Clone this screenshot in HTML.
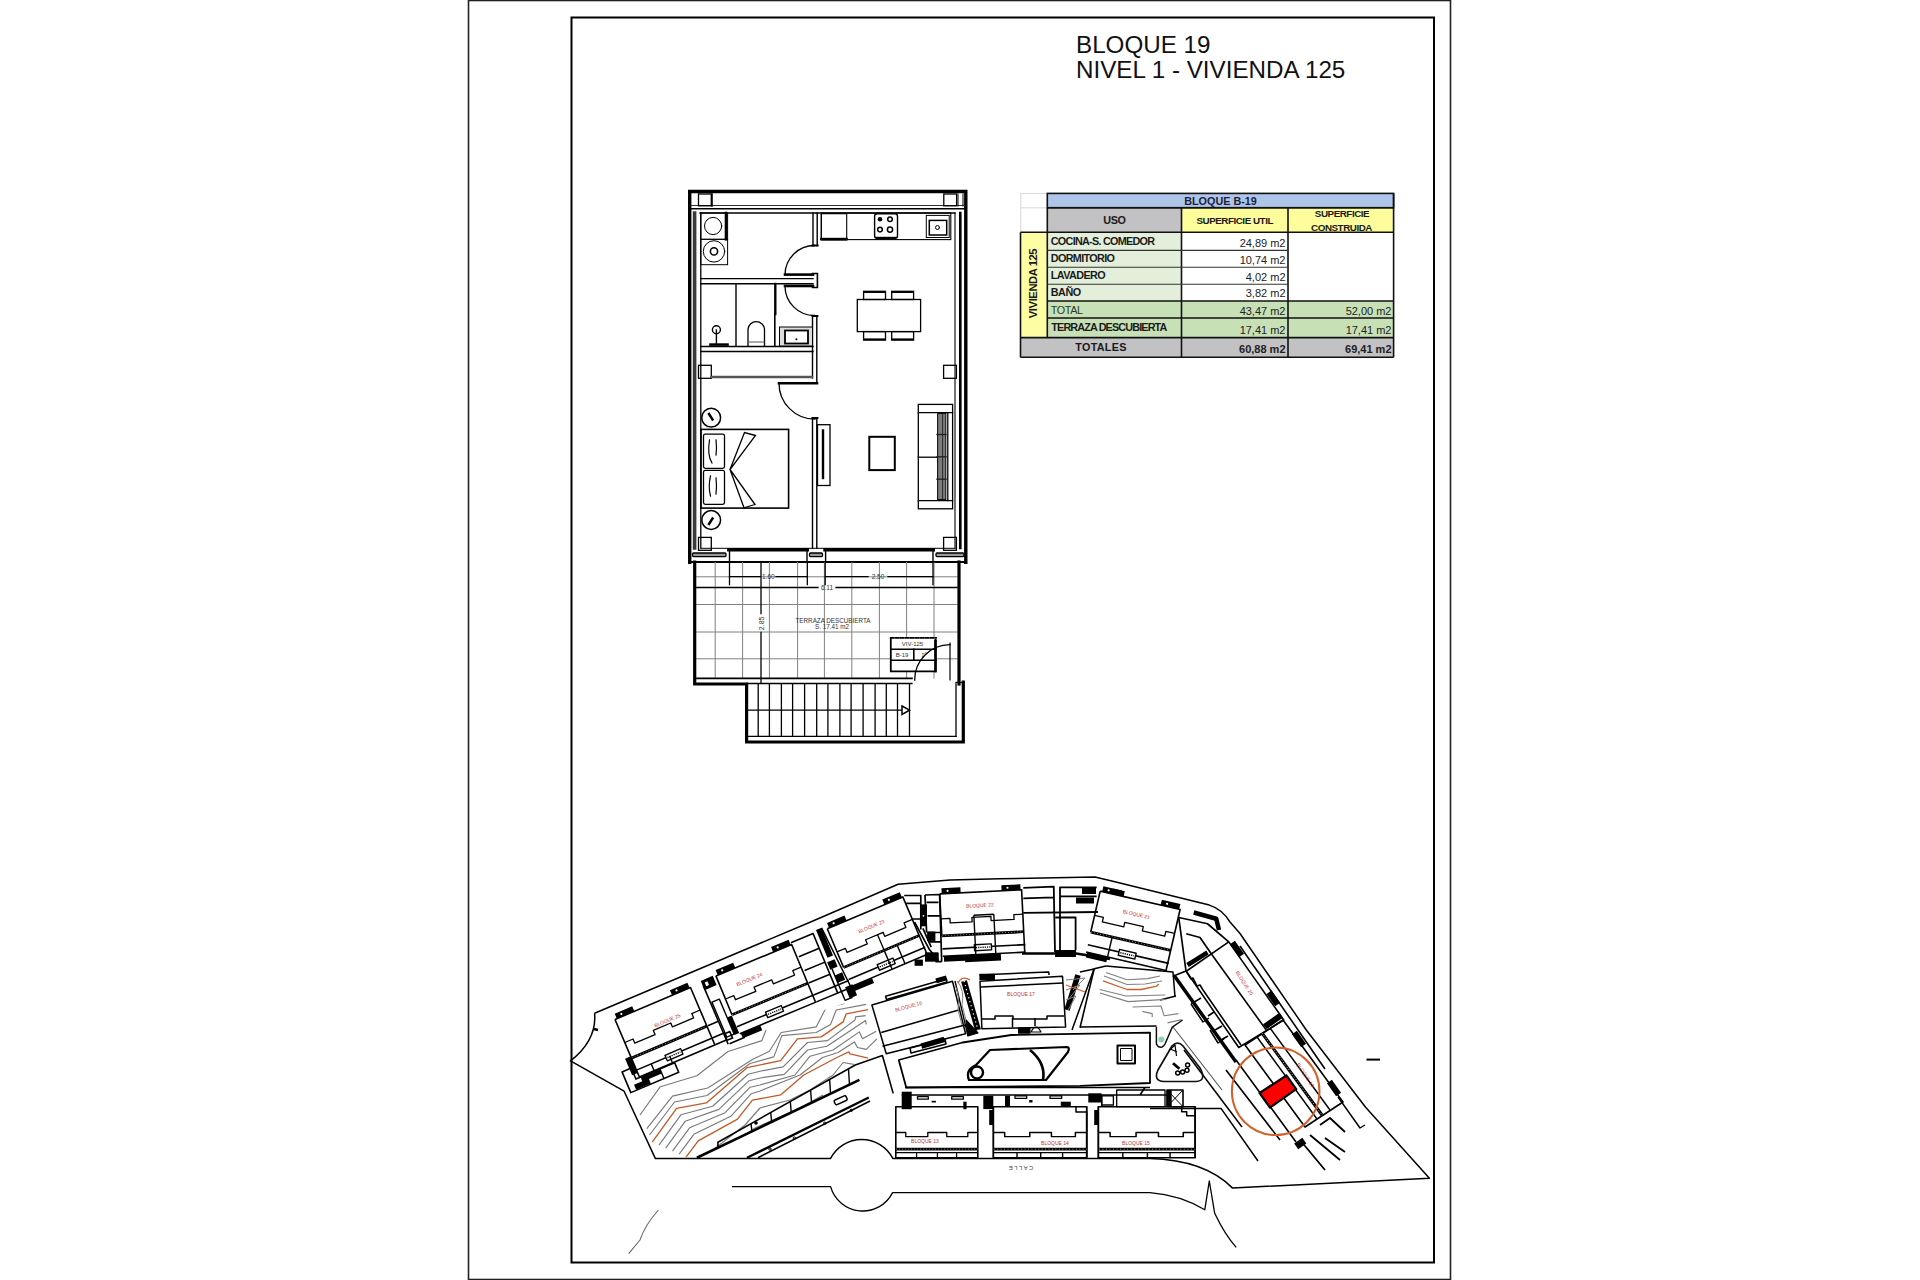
<!DOCTYPE html>
<html><head><meta charset="utf-8">
<style>
html,body{margin:0;padding:0;background:#fff;width:1920px;height:1280px;overflow:hidden}
svg{position:absolute;left:0;top:0;display:block}
text{font-family:"Liberation Sans",sans-serif}
</style></head><body>
<svg width="1920" height="1280" viewBox="0 0 1920 1280">
<!-- page borders -->
<rect x="468.5" y="0.5" width="982" height="1279" fill="none" stroke="#222" stroke-width="1.6"/>
<rect x="571.5" y="17.5" width="862.5" height="1245" fill="none" stroke="#000" stroke-width="2"/>
<!-- title -->
<text x="1076" y="53" font-size="24.2" fill="#111">BLOQUE 19</text>
<text x="1076" y="77.8" font-size="24.2" fill="#111">NIVEL 1 - VIVIENDA 125</text>
<g id="table">
<rect x="1047.3" y="193.4" width="346.3" height="14.3" fill="#aec4e8"/>
<rect x="1047.3" y="207.7" width="134.2" height="24.6" fill="#c2c1c3"/>
<rect x="1181.5" y="207.7" width="212.1" height="24.6" fill="#fdfd9c"/>
<rect x="1020.5" y="232.3" width="26.8" height="105.3" fill="#fdfda4"/>
<rect x="1047.3" y="232.3" width="134.2" height="68.7" fill="#e3efdb"/>
<rect x="1047.3" y="301" width="346.3" height="36.6" fill="#c7e0b5"/>
<rect x="1020.5" y="337.6" width="373.1" height="19.7" fill="#c2c1c3"/>
<g stroke="#d8d8d8" stroke-width="1" fill="none">
<line x1="1021" y1="207.8" x2="1047" y2="207.8"/>
<line x1="1021" y1="193.5" x2="1047" y2="193.5"/>
<line x1="1020.8" y1="193" x2="1020.8" y2="232"/>
</g>
<g stroke="#111" stroke-width="1.6" fill="none">
<rect x="1047.3" y="193.4" width="346.3" height="14.3"/>
<line x1="1047.3" y1="207.7" x2="1393.6" y2="207.7"/>
<line x1="1020.5" y1="232.3" x2="1393.6" y2="232.3"/>
<line x1="1020.5" y1="232.3" x2="1020.5" y2="357.3"/>
<line x1="1047.3" y1="207.7" x2="1047.3" y2="337.6"/>
<line x1="1181.5" y1="207.7" x2="1181.5" y2="357.3"/>
<line x1="1288" y1="207.7" x2="1288" y2="357.3"/>
<line x1="1393.6" y1="193.4" x2="1393.6" y2="357.3"/>
<line x1="1047.3" y1="301" x2="1393.6" y2="301"/>
<line x1="1047.3" y1="318" x2="1393.6" y2="318"/>
<line x1="1020.5" y1="337.6" x2="1393.6" y2="337.6"/>
<line x1="1020.5" y1="357.3" x2="1393.6" y2="357.3"/>
</g>
<g stroke="#333" stroke-width="1.1" fill="none">
<line x1="1047.3" y1="250.4" x2="1288" y2="250.4"/>
<line x1="1047.3" y1="267.3" x2="1288" y2="267.3"/>
<line x1="1047.3" y1="284.2" x2="1288" y2="284.2"/>
</g>
<g font-weight="bold" fill="#1a1a1a" font-size="10.8" letter-spacing="-0.4">
<text x="1220.5" y="204.5" text-anchor="middle" fill="#1b1f3a" letter-spacing="0">BLOQUE B-19</text>
<text x="1114.4" y="223.5" text-anchor="middle">USO</text>
<text x="1234.7" y="223.7" text-anchor="middle" font-size="9.8" letter-spacing="-0.45">SUPERFICIE UTIL</text>
<text x="1342" y="217.4" text-anchor="middle" font-size="9.8" letter-spacing="-0.45">SUPERFICIE</text>
<text x="1341.5" y="231.4" text-anchor="middle" font-size="9.8" letter-spacing="-0.45">CONSTRUIDA</text>
<text x="1050.8" y="245" letter-spacing="-0.72">COCINA-S. COMEDOR</text>
<text x="1050.8" y="262" letter-spacing="-0.65">DORMITORIO</text>
<text x="1050.8" y="279" letter-spacing="-0.6">LAVADERO</text>
<text x="1050.8" y="296" letter-spacing="-0.5">BAÑO</text>
<text x="1050.8" y="314" font-weight="normal" fill="#2a3a2a">TOTAL</text>
<text x="1051.3" y="331" letter-spacing="-0.85">TERRAZA DESCUBIERTA</text>
<text x="1101" y="351" text-anchor="middle" letter-spacing="0.3">TOTALES</text>
<text transform="translate(1037.3,283.5) rotate(-90)" text-anchor="middle" font-size="11.2">VIVIENDA 125</text>
</g>
<g fill="#222" font-size="11" text-anchor="end">
<text x="1285.5" y="247.2">24,89 m2</text>
<text x="1285.5" y="264.2">10,74 m2</text>
<text x="1285.5" y="281.2">4,02 m2</text>
<text x="1285.5" y="297.2">3,82 m2</text>
<text x="1285.5" y="315.2">43,47 m2</text>
<text x="1391.5" y="315.2">52,00 m2</text>
<text x="1285.5" y="334.2">17,41 m2</text>
<text x="1391.5" y="334.2">17,41 m2</text>
<text x="1285.5" y="353.2" font-weight="bold">60,88 m2</text>
<text x="1391.5" y="353.2" font-weight="bold">69,41 m2</text>
</g>
</g>
<g id="plan" fill="none" stroke="#000" stroke-linecap="square">
<!-- outer house walls -->
<path d="M689.7 562.3 V191.5 H965.8 V562.3" stroke-width="3.4"/>
<line x1="689.7" y1="562" x2="965.8" y2="562" stroke-width="2"/>
<!-- top inner lines -->
<line x1="691" y1="205.5" x2="964" y2="205.5" stroke-width="1" stroke="#333"/>
<line x1="691" y1="208.8" x2="964" y2="208.8" stroke-width="1.6"/>
<line x1="700" y1="213" x2="955" y2="213" stroke-width="1.3"/>
<!-- left inner grey bar and line -->
<line x1="694.6" y1="213" x2="694.6" y2="548" stroke-width="3.6" stroke="#3a3a3a"/>
<line x1="700.8" y1="213" x2="700.8" y2="548" stroke-width="1.3"/>
<!-- right inner -->
<line x1="955" y1="213" x2="955" y2="548" stroke-width="1.1"/>
<line x1="960.3" y1="213" x2="960.3" y2="548" stroke-width="2.6"/>
<!-- column squares -->
<g stroke-width="1.3">
<rect x="698.5" y="194" width="12.8" height="11.8"/>
<rect x="943.8" y="194" width="12.8" height="11.8"/>
<rect x="698.5" y="365.3" width="12.8" height="13"/>
<rect x="698.5" y="537.4" width="12.8" height="12.9"/>
<rect x="943.6" y="537.4" width="12.8" height="12.9"/>
<rect x="943.6" y="365.3" width="12.8" height="13"/>
</g>
<line x1="712" y1="194" x2="712" y2="206" stroke-width="1.6"/>
<line x1="958" y1="194" x2="958" y2="206" stroke-width="1"/>
<line x1="963" y1="194" x2="963" y2="206" stroke-width="1"/>
<!-- laundry/bath partition walls -->
<line x1="700.8" y1="278.6" x2="813" y2="278.6" stroke-width="1.4"/>
<line x1="700.8" y1="283.8" x2="813" y2="283.8" stroke-width="1.4"/>
<line x1="700.8" y1="346.5" x2="813" y2="346.5" stroke-width="1.4"/>
<line x1="700.8" y1="351.5" x2="813" y2="351.5" stroke-width="1.4"/>
<!-- central vertical wall (laundry/kitchen) -->
<line x1="813" y1="213" x2="813" y2="245.5" stroke-width="1.4"/>
<line x1="817.2" y1="213" x2="817.2" y2="245.5" stroke-width="1.4"/>
<line x1="812.5" y1="245.5" x2="817.6" y2="245.5" stroke-width="2"/>
<!-- cap between doors -->
<path d="M812.5 273.5 H817.4 V287.5 H812.5" stroke-width="1.6"/>
<!-- bath right wall -->
<line x1="812.5" y1="316" x2="812.5" y2="378" stroke-width="1.4"/>
<line x1="816.8" y1="316" x2="816.8" y2="383" stroke-width="1.4"/>
<line x1="812.5" y1="316" x2="817.4" y2="316" stroke-width="2"/>
<!-- doors -->
<line x1="785" y1="274.6" x2="813" y2="274.6" stroke-width="2.6"/>
<path d="M785 274.6 A29.5 29.5 0 0 1 814.5 245.5" stroke-width="1.3"/>
<line x1="785" y1="286" x2="813" y2="286" stroke-width="2.6"/>
<path d="M785 286 A29.5 29.5 0 0 0 814.5 315.5" stroke-width="1.3"/>
<!-- closet bottom grey bar -->
<line x1="711.5" y1="377" x2="812" y2="377" stroke-width="2.4" stroke="#555"/>
<!-- bedroom door -->
<line x1="779" y1="383.2" x2="817" y2="383.2" stroke-width="2.6"/>
<path d="M779 383.2 A36 36 0 0 0 815 419.2" stroke-width="1.3"/>
<!-- bedroom/living wall -->
<line x1="812.5" y1="418" x2="812.5" y2="548" stroke-width="1.4"/>
<line x1="816.8" y1="418" x2="816.8" y2="548" stroke-width="1.4"/>
<line x1="812.5" y1="418" x2="817.4" y2="418" stroke-width="2"/>
<!-- bottom wall / windows -->
<line x1="728.8" y1="549.8" x2="807.3" y2="549.8" stroke-width="3.4"/>
<line x1="825" y1="549.8" x2="933.3" y2="549.8" stroke-width="3.4"/>
<line x1="701" y1="548.3" x2="955" y2="548.3" stroke-width="1"/>
<line x1="729.5" y1="550" x2="729.5" y2="562" stroke-width="1.4"/>
<line x1="807" y1="550" x2="807" y2="562" stroke-width="1.4"/>
<line x1="825.6" y1="550" x2="825.6" y2="562" stroke-width="1.4"/>
<line x1="933" y1="550" x2="933" y2="562" stroke-width="1.4"/>
<rect x="692.5" y="553" width="33.5" height="3.6" rx="1" stroke-width="1.3" fill="#999"/>
<rect x="809.5" y="553" width="13" height="3.6" rx="1" stroke-width="1.3" fill="#999"/>
<rect x="936" y="553" width="28" height="3.6" rx="1" stroke-width="1.3" fill="#999"/>
<!-- laundry appliances -->
<g stroke-width="1">
<rect x="700.8" y="213" width="26.8" height="26.3"/>
<rect x="700.8" y="239.3" width="26.8" height="25.4"/>
<circle cx="713.1" cy="226" r="8.6"/>
<circle cx="714" cy="251.4" r="10.7"/>
<circle cx="714" cy="251.4" r="3.6" stroke-width="1.6"/>
</g>
<line x1="726" y1="213" x2="726" y2="239.3" stroke-width="2.6"/>
<!-- kitchen -->
<g stroke-width="1.1">
<rect x="821.3" y="213" width="129.5" height="26.6"/>
<rect x="821.3" y="213.7" width="25.4" height="26.3"/>
<rect x="874.6" y="213.7" width="22.9" height="24.6" rx="2.5" stroke-width="1.4"/>
<rect x="926.3" y="215.4" width="22.9" height="22.1" stroke-width="1"/>
<rect x="929.3" y="220.4" width="17.4" height="14.6" stroke-width="1.5"/>
<circle cx="937.5" cy="227.5" r="2" stroke-width="1"/>
</g>
<line x1="821.3" y1="239" x2="846.7" y2="239" stroke-width="2.4"/>
<line x1="877" y1="238" x2="895" y2="238" stroke-width="2.4"/>
<g fill="#000" stroke="none">
<circle cx="880" cy="219.3" r="2.3"/>
</g>
<g stroke-width="1.5">
<circle cx="890" cy="219.3" r="2.3"/>
<circle cx="880" cy="229.6" r="2.3"/>
<circle cx="890" cy="229.6" r="2.6"/>
</g>
<!-- bath fixtures -->
<line x1="736" y1="284" x2="736" y2="346" stroke-width="1.4"/>
<line x1="775.3" y1="284" x2="775.3" y2="314" stroke-width="2.4"/>
<line x1="774.8" y1="314" x2="774.8" y2="346" stroke-width="1.6"/>
<path d="M748 346 V329 A8.3 8.3 0 0 1 764.5 329 V346" stroke-width="1.3"/>
<line x1="748.5" y1="342" x2="764" y2="342" stroke-width="1" stroke="#555"/>
<rect x="779.5" y="327" width="33" height="19" stroke-width="1" fill="#ddd"/>
<rect x="785" y="330.5" width="23" height="13" stroke-width="1.8" fill="#fff"/>
<circle cx="796.4" cy="339.2" r="1" fill="#000" stroke="none"/>
<circle cx="716.4" cy="329.8" r="4" stroke-width="1.4"/>
<line x1="716.4" y1="330" x2="716.4" y2="344" stroke-width="1.4"/>
<line x1="710.5" y1="344.6" x2="727.5" y2="344.6" stroke-width="2.6"/>
<!-- dining table -->
<g stroke-width="1.3">
<rect x="857.3" y="299.5" width="63.3" height="32.1"/>
<rect x="863.6" y="291.3" width="21.9" height="8.2"/>
<rect x="891.7" y="291.3" width="21.9" height="8.2"/>
<rect x="863.6" y="331.6" width="21.9" height="8.4"/>
<rect x="891.7" y="331.6" width="21.9" height="8.4"/>
</g>
<g stroke-width="2">
<line x1="864" y1="292" x2="885" y2="292"/><line x1="892" y1="292" x2="913" y2="292"/>
<line x1="864" y1="339.4" x2="885" y2="339.4"/><line x1="892" y1="339.4" x2="913" y2="339.4"/>
</g>
<!-- bed -->
<rect x="701" y="429.4" width="87.6" height="78.7" stroke-width="1.6"/>
<rect x="703.5" y="434.2" width="21" height="34.2" rx="1.8" stroke-width="1.3"/>
<rect x="703.5" y="470.3" width="21" height="34" rx="1.8" stroke-width="1.3"/>
<path d="M730 469.5 L744.5 432.5 L755.5 435.5 L730 469.5 L755 504.5 L744 507.8 Z" stroke-width="1.3" fill="#fff"/>
<g stroke-width="1.2">
<path d="M709.5 440 Q707 455 712 463"/><path d="M716 440 Q717 448 716 455"/>
<path d="M710.5 476 Q708 487 710.5 496"/><path d="M716 478 Q717 486 716 494"/>
</g>
<circle cx="711.2" cy="417.7" r="9.4" stroke-width="1.5"/>
<circle cx="711.2" cy="520" r="9.4" stroke-width="1.5"/>
<line x1="709" y1="414" x2="712.5" y2="419.5" stroke-width="2.4"/>
<line x1="712.5" y1="518.5" x2="709" y2="524" stroke-width="2.4"/>
<!-- TV unit -->
<rect x="817.5" y="424.7" width="12.5" height="60.8" stroke-width="1.3"/>
<line x1="823" y1="430.5" x2="823" y2="478" stroke-width="2.4"/>
<!-- coffee table -->
<rect x="869.3" y="436.8" width="25.5" height="33.3" stroke-width="2"/>
<!-- sofa -->
<g stroke-width="1.3">
<rect x="918.3" y="404.4" width="34.3" height="104.4"/>
<line x1="918.3" y1="412.6" x2="952.6" y2="412.6"/>
<line x1="918.3" y1="500.7" x2="952.6" y2="500.7"/>
<line x1="918.3" y1="457.2" x2="937" y2="457.2"/>
<line x1="947.8" y1="412.6" x2="947.8" y2="500.7"/>
</g>
<rect x="937.6" y="413.5" width="8.2" height="86" fill="#7c7c7c" stroke="#111" stroke-width="1.1"/>
<line x1="942.6" y1="414" x2="942.6" y2="499" stroke="#222" stroke-width="0.9"/>
<g stroke="#222" stroke-width="1.4">
<line x1="937" y1="434.5" x2="946" y2="434.5"/>
<line x1="937" y1="456.8" x2="946" y2="456.8"/>
<line x1="937" y1="479.2" x2="946" y2="479.2"/>
</g>
<!-- TERRACE -->
<g stroke="#808080" stroke-width="1">
<line x1="715.2" y1="562.5" x2="715.2" y2="678"/>
<line x1="742.6" y1="562.5" x2="742.6" y2="678"/>
<line x1="769.4" y1="562.5" x2="769.4" y2="678"/>
<line x1="797.6" y1="562.5" x2="797.6" y2="678"/>
<line x1="824.4" y1="562.5" x2="824.4" y2="678"/>
<line x1="851.8" y1="562.5" x2="851.8" y2="678"/>
<line x1="879.4" y1="562.5" x2="879.4" y2="678"/>
<line x1="906.6" y1="562.5" x2="906.6" y2="678"/>
<line x1="934" y1="562.5" x2="934" y2="678"/>
<line x1="696.5" y1="576.8" x2="957" y2="576.8"/>
<line x1="696.5" y1="604.5" x2="957" y2="604.5"/>
<line x1="696.5" y1="632" x2="957" y2="632"/>
<line x1="696.5" y1="658.8" x2="957" y2="658.8"/>
</g>
<!-- terrace walls -->
<path d="M694.7 562 V684 H746.6 V742 H963.3 V682" stroke-width="3.2"/>
<line x1="959" y1="562" x2="959" y2="684" stroke-width="3.2"/>
<line x1="696.5" y1="678.4" x2="912" y2="678.4" stroke-width="1.6"/>
<line x1="746.6" y1="683.5" x2="912" y2="683.5" stroke-width="1.3"/>
<line x1="748" y1="736.3" x2="956" y2="736.3" stroke-width="1.3"/>
<line x1="956" y1="684" x2="956" y2="736.3" stroke-width="1.3"/>
<line x1="956" y1="682.5" x2="963" y2="682.5" stroke-width="1.3"/>
<!-- stairs -->
<g stroke-width="1.3">
<line x1="758.2" y1="684" x2="758.2" y2="736"/>
<line x1="769.4" y1="684" x2="769.4" y2="736"/>
<line x1="781.4" y1="684" x2="781.4" y2="736"/>
<line x1="792.6" y1="684" x2="792.6" y2="736"/>
<line x1="804.6" y1="684" x2="804.6" y2="736"/>
<line x1="816.7" y1="684" x2="816.7" y2="736"/>
<line x1="827.9" y1="684" x2="827.9" y2="736"/>
<line x1="839.9" y1="684" x2="839.9" y2="736"/>
<line x1="851.1" y1="684" x2="851.1" y2="736"/>
<line x1="863.1" y1="684" x2="863.1" y2="736"/>
<line x1="875.1" y1="684" x2="875.1" y2="736"/>
<line x1="886.3" y1="684" x2="886.3" y2="736"/>
<line x1="897.5" y1="684" x2="897.5" y2="736"/>
<line x1="909.5" y1="684" x2="909.5" y2="736"/>
<line x1="748" y1="710.2" x2="902" y2="710.2"/>
</g>
<path d="M902 706 L909.5 710.2 L902 714.5 Z" stroke-width="1.5" fill="#fff"/>
<!-- dimension lines -->
<g stroke-width="1.3">
<line x1="729.5" y1="562" x2="729.5" y2="584.7"/>
<line x1="807.3" y1="562" x2="807.3" y2="584.7"/>
<line x1="825.2" y1="562" x2="825.2" y2="584.7"/>
<line x1="933" y1="562" x2="933" y2="584.7"/>
<line x1="729.5" y1="576.6" x2="760" y2="576.6"/>
<line x1="776" y1="576.6" x2="807.3" y2="576.6"/>
<line x1="825.2" y1="576.6" x2="868" y2="576.6"/>
<line x1="888" y1="576.6" x2="933" y2="576.6"/>
<line x1="696.5" y1="587.5" x2="818" y2="587.5"/>
<line x1="836" y1="587.5" x2="957" y2="587.5"/>
<line x1="761" y1="562" x2="761" y2="613.5"/>
<line x1="761" y1="632.5" x2="761" y2="683"/>
</g>
<g stroke="none" fill="#333" font-size="6.5" text-anchor="middle">
<text x="768.3" y="579">1.60</text>
<text x="878" y="579">2.50</text>
<text x="827" y="590">6.11</text>
<text transform="translate(763.7,623.4) rotate(-90)" font-size="7">2.85</text>
<text x="833" y="622.5" font-size="6.3">TERRAZA DESCUBIERTA</text>
<text x="832" y="629" font-size="6.3">S. 17.41 m2</text>
</g>
<!-- label box -->
<rect x="890.8" y="637.9" width="45.3" height="33.4" stroke-width="1.7" fill="#fff" stroke="none"/>
<path d="M890.8 637.9 V671.3 H935.5 V640" stroke-width="1.8"/>
<line x1="935.5" y1="641" x2="935.5" y2="671" stroke-width="2.6"/>
<line x1="890.8" y1="637.9" x2="936" y2="637.9" stroke-width="1.8" stroke-dasharray="3 2"/>
<line x1="890.8" y1="649.2" x2="936" y2="649.2" stroke-width="1.6"/>
<line x1="890.8" y1="660.3" x2="936" y2="660.3" stroke-width="1.6"/>
<line x1="913.8" y1="649.2" x2="913.8" y2="660.3" stroke-width="1.6"/>
<g stroke="none" fill="#333" font-size="6" text-anchor="middle">
<text x="912.5" y="645.5">VIV-125</text>
<text x="902" y="657">B-19</text>
<text x="924" y="657">1º</text>
</g>
<!-- terrace door arc -->
<line x1="950" y1="643" x2="950" y2="680" stroke-width="1.2"/>
<path d="M914.7 680 A35.3 35.3 0 0 1 950 644.7" stroke-width="1.3"/>
</g>
<g id="site" fill="none" stroke="#000" stroke-width="1.2" stroke-linejoin="round">
<defs>
<g id="bA">
 <path d="M0 0 H82 V62 M0 0 V42" stroke-width="1.6"/>
 <path d="M0 25 H9 V29.5 H31 V25 H50 V29.3 H73 V24.5 H82" stroke-width="1.3"/>
 <line x1="0" y1="42" x2="82" y2="42" stroke-width="2.8"/>
 <line x1="0.5" y1="42" x2="81" y2="42" stroke-width="0.6" stroke="#fff" stroke-dasharray="0.8 2.2"/>
 <path d="M0 55 H83 M0 62.5 H83" stroke-width="1.6"/>
 <rect x="32" y="52.5" width="17" height="6" stroke-width="1.4" fill="#fff"/>
 <line x1="33.5" y1="55.5" x2="47.5" y2="55.5" stroke-width="1.4" stroke-dasharray="1.2 1"/>
 <rect x="2" y="-5.5" width="19" height="5.5" fill="#000" stroke="none"/>
 <rect x="62" y="-5.5" width="19" height="5.5" fill="#000" stroke="none"/>
 <circle cx="8" cy="-2.7" r="1.1" fill="#fff" stroke="none"/>
 <circle cx="68" cy="-2.7" r="1.1" fill="#fff" stroke="none"/>
 <rect x="1" y="62.5" width="21" height="5.5" fill="#000" stroke="none"/>
</g>
<g id="bB">
 <path d="M0 0 H82 V51 H0 Z" stroke-width="1.6"/>
 <path d="M0 25.8 H10 V30 H32 V25.8 H51 V30 H72 V25.8 H82" stroke-width="1.3"/>
 <line x1="0" y1="42.5" x2="82" y2="42.5" stroke-width="2.8"/>
 <line x1="0.5" y1="42.5" x2="82" y2="42.5" stroke-width="0.6" stroke="#fff" stroke-dasharray="0.8 2.2"/>
 <path d="M0 46 H82 M20.8 46 V51 M41.6 46 V51 M60.8 46 V51" stroke-width="1.2"/>
</g>
<g id="cA">
 <path d="M83 42 H94.5 M83 55 H94.5 M83 62.5 H94.5" stroke-width="1.6"/>
 <line x1="94.5" y1="3" x2="94.5" y2="67" stroke-width="1.6"/>
 <rect x="96" y="22" width="8" height="38" stroke-width="1.4"/>
 <rect x="104" y="42" width="5" height="19" fill="#000" stroke="none"/>
 <rect x="94" y="-2" width="13" height="10" fill="#000" stroke="none"/>
 <rect x="97" y="1" width="3" height="4" fill="#fff" stroke="none"/>
 <rect x="95" y="56" width="6" height="7" stroke-width="1.6"/>
 <path d="M96 67 H112 V62.5" stroke-width="1.6"/>
</g>
<clipPath id="cclip"><path d="M624 1091 L640 1086 L702 1052 L766 1029 L870 995 L886 1054 L859 1080 L697 1158 L655 1158 Z"/></clipPath>
</defs>
<!-- site boundary -->
<path d="M594.6 1013.3 L810 922.2 L898.1 884.2 L950 880 L1000 878.8 L1095 877 L1112.8 881.2 L1209.3 905.1 Q1222 909 1230 922 L1240 933.5 L1306.3 1030 L1365.6 1107.3 L1429.4 1178.2 L1232.6 1188.1 Q1205 1160 1150 1158.5 L892.8 1158.4 A35 35 0 0 0 830.6 1158.4 L655.3 1158.4 L624.1 1091.2 L570.5 1060.9 Q597 1040 594.6 1013.3" stroke-width="1.5"/>
<!-- road lines -->
<path d="M731.9 1186.6 H830.6 A33.4 33.4 0 0 0 892.6 1192.6 L1150 1192.6 Q1180 1195 1204.8 1209.7 L1209.3 1181 L1214.7 1213.3 Q1225 1235 1236.2 1247.4" stroke-width="1.3"/>
<path d="M658.4 1210 Q645 1225 640 1240 L628.7 1253.7" stroke="#666" stroke-width="1.1"/>
<line x1="1366.5" y1="1059.6" x2="1380" y2="1059.6" stroke-width="2"/>
<text x="1021" y="1170" font-size="6" fill="#444" stroke="none" text-anchor="middle" transform="rotate(180 1021 1168)">C A L L E</text>
<!-- contours -->
<g clip-path="url(#cclip)" stroke-linejoin="round">
<path d="M640.0 1115.0 L660.3 1086.7 L696.9 1075.8 L728.0 1051.5 L761.9 1040.6 L766.0 1030.0" stroke="#7a7a7a" stroke-width="1.15"/>
<path d="M646.8 1128.6 L672.5 1096.1 L707.7 1088.0 L752.4 1059.6 L769.4 1051.2 L781.2 1032.5 L816.2 1026.9 L826.2 1007.5 L843.8 1003.8 L846.2 996.9" stroke="#7a7a7a" stroke-width="1.15"/>
<path d="M649.5 1135.0 L674.5 1102.0 L707.0 1095.5 L750.0 1063.5 L773.8 1056.9 L781.9 1035.6 L816.2 1032.5 L830.6 1024.4 L836.2 1010.0 L866.2 1004.4" stroke="#7a7a7a" stroke-width="1.15"/>
<path d="M700.0 1160.0 L745.0 1125.0 L760.0 1108.0 L790.0 1100.0 L810.0 1090.0 L833.1 1075.0 L843.1 1062.5 L853.8 1064.4" stroke="#7a7a7a" stroke-width="1.15"/>
<path d="M712.0 1158.0 L755.0 1128.0 L800.0 1108.0 L823.0 1095.0" stroke="#7a7a7a" stroke-width="1.15"/>
<path d="M659.0 1145.2 L680.9 1114.8 L712.6 1106.2 L748.1 1074.2 L760.0 1071.2 L783.1 1066.9 L807.5 1042.5 L827.5 1040.6 L855.0 1020.0 L855.6 1016.9 L865.6 1015.6" stroke="#7a7a7a" stroke-width="1.15"/>
<path d="M665.7 1148.2 L685.2 1121.3 L718.8 1109.4 L749.2 1080.7 L760.0 1078.0 L784.4 1074.4 L807.5 1050.0 L826.9 1046.2 L865.6 1020.6 L866.2 1024.4" stroke="#7a7a7a" stroke-width="1.15"/>
<path d="M672.5 1151.1 L689.6 1127.8 L725.1 1112.7 L750.2 1087.2 L760.0 1085.0 L795.0 1075.0 L810.0 1056.2 L833.1 1050.0 L859.4 1031.9 L862.5 1038.8 L876.2 1031.2" stroke="#7a7a7a" stroke-width="1.15"/>
<path d="M679.2 1154.1 L693.9 1134.3 L731.3 1115.9 L751.3 1093.7 L760.0 1091.0 L800.0 1075.0 L822.5 1057.5 L838.1 1052.5 L854.4 1041.9 L857.5 1047.5 L866.2 1049.4 L876.9 1038.8" stroke="#7a7a7a" stroke-width="1.15"/>
<path d="M652.2 1142.2 L676.6 1108.3 L706.4 1102.9 L747.0 1067.7 L780.6 1060.6 L797.5 1038.8 L821.2 1036.9 L843.1 1021.9 L846.2 1013.8 L868.1 1009.7" stroke="#c25a2a" stroke-width="1.35"/>
<path d="M686.0 1157.1 L698.2 1140.8 L737.5 1119.2 L752.4 1100.2 L780.8 1094.8 L803.8 1075.0 L836.9 1057.5 L848.8 1051.9 L850.0 1053.8 L868.1 1058.1" stroke="#c25a2a" stroke-width="1.35"/>
</g>
<circle cx="756" cy="1123" r="1.8" fill="#000" stroke="none"/>
<!-- lower-left diagonal strip -->
<g stroke-width="1.6">
<path d="M696.9 1157.75 L859.4 1079.9" stroke-width="2.6"/>
<path d="M717.9 1146.5 L717.9 1142.2 L855.3 1065 L882.4 1055.5 L893.2 1093.4"/>
<path d="M747 1157.75 L868.8 1097.5" stroke-width="2.4"/>
<path d="M758 1157.75 L870 1101"/>
<path d="M751.0 1123.6 L752.0 1131.8 M770.7 1112.5 L771.7 1122.4 M790.3 1101.5 L791.3 1113.0 M810.6 1090.1 L811.6 1103.3 M829.6 1079.4 L830.6 1094.2 M848.5 1068.8 L849.5 1085.1" stroke-width="1.4"/>
<circle cx="770.0" cy="1149.0" r="1.2" stroke-width="1"/><circle cx="794.4" cy="1138.1" r="1.2" stroke-width="1"/><circle cx="824.8" cy="1123.2" r="1.2" stroke-width="1"/><circle cx="851.2" cy="1110.4" r="1.2" stroke-width="1"/>
<rect x="834" y="1098" width="13" height="5" rx="1.5" transform="rotate(-24 840 1100)" stroke-width="1.5"/>
</g>
<!-- row buildings and connectors -->
<g transform="translate(615,1019.5) rotate(-23)"><use href="#bA"/><use href="#cA"/>
 <path d="M-14 51 H-4 V63 H38 V73.5 H-14 Z M0 42 V63 M-4 51 V42 H0" stroke-width="1.6"/>
 <rect x="-6" y="40" width="6" height="18" fill="#000" stroke="none"/>
 <path d="M22 62.5 V68 M36 55 V62.5 M16 55 V62.5 M22 63 V73.5" stroke-width="1.4"/>
 <rect x="-8" y="67.5" width="16" height="5.5" fill="#000" stroke="none"/>
</g>
<g transform="translate(715.9,975.9) rotate(-22.5)"><use href="#bA"/>
 <path d="M82 -2 H106 V62.5 M84 14 H106 M84 29 H106 M83 42 H106 M83 55 H121 M83 62.5 H121" stroke-width="1.6"/>
 <rect x="110" y="-4" width="6" height="30" fill="#000" stroke="none"/>
 <rect x="108" y="30" width="8" height="8" fill="#000" stroke="none"/>
 <rect x="110" y="45" width="8" height="8" fill="#000" stroke="none"/>
 <rect x="115" y="60" width="8" height="12" fill="#000" stroke="none"/>
 <path d="M116 -4 L121 70 M110 38 V72 H118" stroke-width="1.5"/>
</g>
<g transform="translate(827.3,928.8) rotate(-22.9)"><use href="#bA"/>
 <path d="M44 25 V42" stroke-width="1.3"/>
 <path d="M44 42 V62.5 M58 42 V62.5" stroke-width="1.4"/>
</g>
<!-- connector 23-22 -->
<g stroke-width="1.7">
<path d="M904.2 895.5 L920.8 895.5 L920.8 929.4 M906.2 903.3 L920.8 903.3 M912.5 919.0 L920.8 919.0"/>
<path d="M925.0 895.0 L939.6 894.5 L941.7 961.7 M925.0 895.0 L926.6 932.5 M926.6 902.3 L938.5 902.3 M927.6 915.8 L939.6 915.8 M928.1 932.5 L940.1 932.5 M929.2 941.9 L940.6 941.9 M935.4 961.7 L941.7 961.7"/>
<path d="M914.6 922.1 L929.2 949.2 L938.5 960.6 M922.9 928.3 L931.2 947.1"/>
</g><g fill="#000" stroke="none">
<rect x="920.8" y="904.4" width="6.2" height="21.9"/>
<rect x="927.1" y="931.5" width="8.3" height="9.4"/>
<rect x="925.0" y="952.3" width="13.5" height="9.4"/>
<rect x="914.6" y="959.6" width="8.3" height="6.2"/>
<rect x="930.7" y="953.3" width="7.8" height="7.3"/>
<circle cx="923.4" cy="915.8" r="0.9" fill="#fff"/>
</g>
<g transform="translate(939.7,893.9) rotate(-2.9)"><use href="#bA"/>
 <path d="M33 23 V62.5 M53 23 V62.5 M33 23 H53" stroke-width="1.4"/>
 <rect x="22" y="62.5" width="36" height="7" fill="#000" stroke="none"/>
</g>
<!-- connector 22-21 -->
<g stroke-width="1.8">
<path d="M1023.3 887.8 L1053.75 886.6 L1055 951.9 M1023.3 898.4 L1053.75 897.4 M1023.3 912.8 L1098 912"/>
<path d="M1060 951 L1060 887.4 L1096.7 887.4 M1060 896.4 L1096.7 896.4"/>
<path d="M1055.3 917.5 H1075.6 V950.3" />
<path d="M1022 953.5 L1076 953.5 L1110 958.9" stroke-width="2.6"/>
</g>
<rect x="1082" y="887" width="14" height="7" fill="#000" stroke="none"/>
<rect x="1076" y="897.5" width="18" height="6" fill="#000" stroke="none"/>
<rect x="1055" y="950" width="21" height="7" fill="#000" stroke="none"/>
<g transform="translate(1100.2,891.1) rotate(13)"><use href="#bA"/>
 <path d="M22 42 V62.5" stroke-width="1.4"/>
 <rect x="12" y="-5.5" width="12" height="5.5" fill="#000" stroke="none"/>
</g>
<!-- B21-B20 connector -->
<g stroke-width="1.7">
<path d="M1178.75 917.5 L1207.5 923.75 L1228.75 941.9"/>
<path d="M1186.25 933.75 L1200 937.5 L1211.25 953.75"/>
<path d="M1187.5 965 L1207.5 952.5" stroke-width="4.5"/>
<path d="M1193.75 912.5 L1216.25 918.75 L1219 930" stroke-width="4.5"/>
<path d="M1178.75 917.5 L1186 971"/>
<path d="M1176 975 L1186 971"/>
</g>
<!-- building 20 -->
<g stroke-width="1.6">
<path d="M1186.25 971.25 L1228.75 941.9 L1283.75 1020 L1238.75 1047.5 Z"/>
<path d="M1211.25 953.75 L1266.25 1030"/>
<path d="M1186.25 971.25 L1191 979 L1193 978 L1197 986 L1200 985 L1203 990 L1241 1045"/>
<path d="M1240 946 L1325 1069"/>
<path d="M1173.75 975 L1236 1062" stroke-width="3.5"/>
<path d="M1160 1000 L1176 996"/>
<path d="M1191 1004 L1201 998 M1208 1016 L1214 1012 M1215 1030 L1222 1026 M1221 1040 L1228 1036"/>
<path d="M1191 1004 L1203 1022 L1209 1018 M1210 1030 L1218 1043 L1224 1039" stroke-width="1.5"/>
<path d="M1173 1027 L1222 1090" stroke="#555" stroke-width="1.1"/>
<path d="M1184 1050 L1242 1127" stroke-width="1.5"/>
</g>
<g fill="#000" stroke="none">
<rect x="1234" y="941" width="6" height="16" transform="rotate(-35 1237 949)"/>
<rect x="1270" y="991" width="6" height="15" transform="rotate(-35 1273 998)"/>
<rect x="1296" y="1031" width="6" height="16" transform="rotate(-35 1299 1039)"/>
<rect x="1331" y="1080" width="6" height="16" transform="rotate(-35 1334 1088)"/>
<rect x="1263" y="1018" width="20" height="6" transform="rotate(-35 1273 1021)"/>
</g>
<!-- building 19 -->
<g stroke-width="1.6">
<path d="M1245 1045 L1283 1020 L1343 1102 L1305 1127 Z"/>
<path d="M1257 1037 L1317 1119 M1270 1028 L1330 1110" stroke-width="1.4"/>
<path d="M1262 1033 L1322 1115" stroke-width="3"/>
<path d="M1262 1033 L1322 1115" stroke-width="0.8" stroke="#fff" stroke-dasharray="1 2"/>
<path d="M1236 1060 L1296 1142 M1226 1070 L1280 1140" stroke-width="1.6"/>
<path d="M1320 1125 L1330 1118 L1345 1132 M1325 1138 L1345 1152 M1300 1140 L1325 1170 M1310 1135 L1340 1160" stroke-width="1.8"/>
<rect x="1295" y="1140" width="10" height="7" fill="#000" stroke="none" transform="rotate(-35 1300 1143)"/>
<path d="M1338 1097 L1360 1128 L1365 1125" stroke-width="1.4"/>
</g>
<path d="M1259.6 1093 L1286.4 1075.5 L1296.2 1089.1 L1270 1107.7 Z" fill="#f00" stroke="#000" stroke-width="2.2"/>
<circle cx="1275.7" cy="1091.3" r="43.8" stroke="#d0622e" stroke-width="2"/>
<!-- bottom row -->
<g stroke-width="1.6">
<path d="M905 1087.5 L1150 1087.5 M901.7 1095 L1166.7 1095 M1140 1095 L1145 1087.5"/>
</g>
<g fill="#000" stroke="none">
<rect x="901.7" y="1091.7" width="10.0" height="17.5"/>
<rect x="963.3" y="1101.7" width="3.3" height="7.5"/>
<rect x="983.3" y="1095.8" width="10.0" height="13.3"/>
<rect x="1005.0" y="1095.8" width="5.0" height="10.8"/>
<rect x="1060.8" y="1101.7" width="10.0" height="5.0"/>
<rect x="1088.3" y="1093.3" width="13.3" height="9.2"/>
<rect x="1166.7" y="1090.0" width="5.0" height="16.7"/>
<rect x="1094.2" y="1110.0" width="4.2" height="15.0"/>
<rect x="989.2" y="1110.0" width="4.2" height="15.0"/>
<rect x="931.7" y="1100.8" width="4.2" height="1.7"/>
<rect x="1029.2" y="1100.0" width="3.3" height="2.5"/>
</g><g stroke-width="1.3">
<rect x="917.5" y="1096.7" width="10.8" height="2.5"/>
<rect x="951.7" y="1096.7" width="11.7" height="2.5"/>
<rect x="1015.0" y="1095.8" width="11.7" height="2.5"/>
<rect x="1050.0" y="1095.8" width="11.7" height="2.5"/>
<rect x="1116.7" y="1090.0" width="48.3" height="16.7"/>
<rect x="1101.7" y="1095.8" width="11.7" height="9.2"/>
</g>
<rect x="1167" y="1090" width="16" height="16.7" stroke-width="1.6"/><path d="M1167 1090 L1183 1106.7 M1183 1090 L1167 1106.7" stroke-width="1"/>
<path d="M1101.7 1095 L1101.7 1106.7 M1181.7 1106.7 V1111.7 H1186.7 V1115.8 H1195" stroke-width="1.5"/>
<path d="M1076 1106.7 V1112 H1086.7 V1157" stroke-width="1.5"/>
<circle cx="1093.3" cy="1097.5" r="2" stroke-width="1.4"/>
<use href="#bB" transform="translate(895.8,1106.7)"/>
<use href="#bB" transform="translate(993.3,1106.7) scale(1.14,1)"/>
<use href="#bB" transform="translate(1098.3,1106.7) scale(1.18,1)"/>
<!-- building 16 -->
<g stroke-width="1.5">
<path d="M871.9 1005 L952.5 981.25 L965.6 1033.75 L886.25 1053.75 Z"/>
<path d="M881.25 1032.5 L958.75 1010 M882.5 1046.25 L965 1025"/>
<path d="M885.6 996.25 L946.25 978.75 L947 982 L886.5 999.5 Z"/>
<path d="M910 1048 L945 1039 L946 1044 L911 1053 Z"/>
</g>
<rect x="936" y="977" width="11" height="5" fill="#000" stroke="none" transform="rotate(-16 941 980)"/>
<rect x="921" y="1040" width="24" height="5.5" fill="#000" stroke="none" transform="rotate(-16 933 1043)"/>
<path d="M964 981 L978 1030" stroke-width="6" stroke="#000"/>
<path d="M964 981 L978 1030" stroke-width="1.2" stroke="#fff" stroke-dasharray="1.2 3"/>
<path d="M966 1020 L978 1033 L968 1036 Z" fill="#000"/>
<path d="M955 981 L968 1036" stroke-width="1.4"/>
<g stroke="#808080" stroke-width="1">
<path d="M955 985 Q960 995 958 1010 L962 1025"/><path d="M957 981 Q965 990 962 1005 L966 1020"/>
</g>
<path d="M958 983 Q962 975 970 980" stroke="#c8602e" stroke-width="1.2"/>
<!-- building 17 -->
<g stroke-width="1.5">
<path d="M980 981.25 L1062.5 976.25 L1065.6 1026.9 L981.9 1028.75 Z"/>
<path d="M980.6 986.9 L1063 983.1"/>
<path d="M979.4 975 L1048.75 971.9 L1049 975"/>
<path d="M981 1019 H995 V1016 H1013 V1019 H1047 V1016 H1064"/>
<path d="M1012.5 1018 V1027.5 M1035 1018 V1026"/>
</g>
<rect x="979.4" y="973.75" width="15.6" height="6.25" fill="#000" stroke="none"/>
<rect x="1018" y="1027.5" width="12.5" height="6.25" fill="#000" stroke="none"/>
<path d="M1031 1032 Q1036 1022 1041 1032 Z" stroke-width="1.2"/>
<path d="M1067 1010 L1078 975" stroke-width="5.5"/>
<path d="M1072 1030 L1094 969 M1094 969 L1080 972" stroke-width="1.5"/>
<g stroke="#808080" stroke-width="1"><path d="M1066 980 L1085 978 L1073 990"/><path d="M1066 990 L1080 985 L1068 1000"/><path d="M1066 1000 L1076 996 L1068 1010"/></g>
<path d="M1066 985 L1085 992" stroke="#c8602e" stroke-width="1.2"/>
<!-- triangle area contours -->
<g stroke="#808080" stroke-width="1.1">
<path d="M1106 972.6 L1127 979.7 L1147.8 978.6 L1160 976"/>
<path d="M1104 976 L1127 984.5 L1145 984 L1162 981"/>
<path d="M1099.7 989.5 L1126 996 L1165.3 995"/>
<path d="M1100 993 L1128 1001.6 L1166.4 999.4"/>
<path d="M1132.5 1007 L1161 1006 L1164.2 1015.8 L1178.4 1013.6"/>
<path d="M1142.3 1011.4 L1152.2 1013.6 L1152.2 1016.9"/>
<path d="M1167.5 1022.9 L1181.7 1019.6"/>
</g>
<path d="M1103 980.8 L1127 989.5 L1141.2 989.5 L1156.6 986.2 L1158.7 984" stroke="#c8602e" stroke-width="1.3"/>
<path d="M1080 1027.8 L1094.2 968.75 L1106 966" stroke-width="1.6"/>
<path d="M1080 1027 L1156.6 1026 M1106 966 L1173 972 L1175 997" stroke-width="1.5"/>
<path d="M1150 1108.4 L1221 1108.4 L1258 1161" stroke-width="1.5"/>
<!-- pool deck -->
<g stroke-width="1.8">
<path d="M898.75 1060 L962.5 1042.5 L1011.25 1035 L1150 1032.7 L1150 1083 L1080 1085.8 L906.25 1087.5 Z"/>
<path d="M969 1080 Q965 1070 976 1065 L990 1050 L1067 1047 Q1070 1047 1068 1052 L1046 1080 Z" stroke-width="2.2"/>
<path d="M1030 1050 Q1046 1063 1043 1080" stroke-width="2.6"/>
</g>
<circle cx="977" cy="1072.5" r="6" stroke-width="2.4"/>
<rect x="1117.5" y="1045.5" width="17.5" height="18" stroke-width="2"/>
<rect x="1120.5" y="1048.5" width="11.5" height="12" stroke-width="1"/>
<path d="M1172 1046 Q1177.7 1040 1183 1046 L1200 1068 Q1207 1081 1196 1081.5 L1164 1081.5 Q1153 1081 1158 1070 Z" stroke-width="1.7" stroke="#111"/>
<path d="M1169 1050.5 L1175 1045 L1176.5 1056 M1170.5 1049 L1177 1052" stroke-width="1.2"/>
<path d="M1173 1063.2 L1179.4 1068.7" stroke-width="2.8"/>
<g stroke-width="1.5"><circle cx="1177.7" cy="1073" r="2"/><circle cx="1182.6" cy="1071.9" r="2"/><circle cx="1187" cy="1070.3" r="2"/><circle cx="1187.6" cy="1065" r="2"/></g>
<path d="M1156.4 1027 L1156.4 1044 Q1158 1048 1162 1047 Q1164 1046 1165 1044 L1172.3 1027.1 L1182.6 1020" stroke-width="1.5" stroke="#111"/>
<circle cx="1161.3" cy="1039.5" r="3" fill="#8fd3ad" stroke="none"/>
<!-- B25 left tail -->
<path d="M594 1029 L598 1030" stroke-width="2.5"/>
<!-- red labels -->
<g fill="#c03030" stroke="none" font-size="5" text-anchor="middle">
<text transform="translate(668,1022) rotate(-23)">BLOQUE 25</text>
<text transform="translate(750,981) rotate(-22.5)">BLOQUE 24</text>
<text transform="translate(872,928) rotate(-22.9)">BLOQUE 23</text>
<text transform="translate(980,907) rotate(-2.9)">BLOQUE 22</text>
<text transform="translate(1136,916) rotate(13)">BLOQUE 21</text>
<text transform="translate(1243,984) rotate(57)">BLOQUE 20</text>
<text transform="translate(1304,1076) rotate(57)">BLOQUE 19</text>
<text transform="translate(909,1008) rotate(-16)">BLOQUE 16</text>
<text x="1021" y="995.5">BLOQUE 17</text>
<text x="925" y="1142.5">BLOQUE 13</text>
<text x="1055" y="1145">BLOQUE 14</text>
<text x="1136" y="1145">BLOQUE 15</text>
</g>
</g>
</svg>
</body></html>
